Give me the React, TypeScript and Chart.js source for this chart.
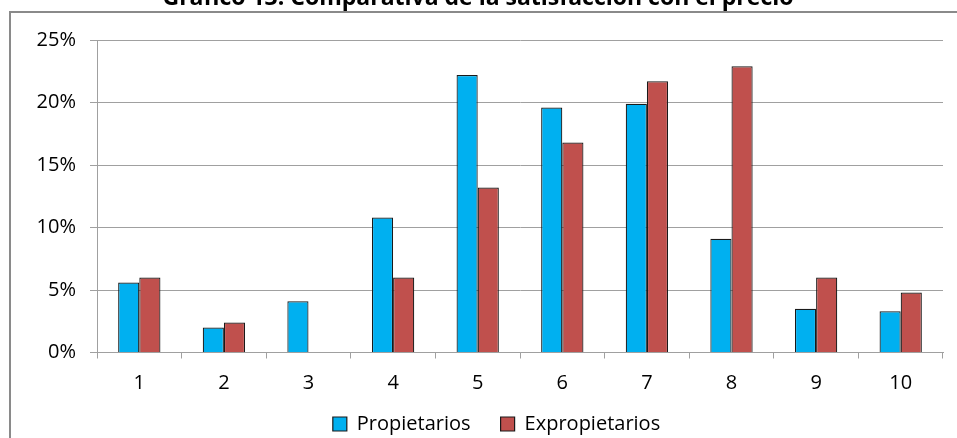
import React, { useEffect, useRef } from "react";
import { Chart, registerables } from "chart.js";

Chart.register(...registerables);

// Satisfaction score (1–10) and share of respondents in each group, in percent
const categories = ["1", "2", "3", "4", "5", "6", "7", "8", "9", "10"];
const propietarios = [5.6, 2.0, 4.1, 10.8, 22.2, 19.6, 19.9, 9.1, 3.5, 3.3];
const expropietarios = [6.0, 2.4, 0, 6.0, 13.2, 16.8, 21.7, 22.9, 6.0, 4.8];
const seriesNames = ["Propietarios", "Expropietarios"];
const yTicks = [0, 5, 10, 15, 20, 25];
const title = "Gráfico 13: Comparativa de la satisfacción con el precio";

const FONT = "'Open Sans', 'DejaVu Sans', sans-serif";
const FONT_SIZE = 20;
const GRID = "#a0a0a0";
const LEGEND_PAD = 30;

// Outer frame, heading, and placement of the legend row under the plot
const framePlugin = {
  id: "frame",
  afterLayout(chart: any) {
    const lg = chart.legend;
    if (!lg) return;
    const dx = 25;
    lg.left += dx;
    lg.right += dx;
    const dy = 424 - (lg.top + LEGEND_PAD + FONT_SIZE / 2);
    lg.top += dy;
    lg.bottom += dy;
  },
  beforeDraw(chart: any) {
    const ctx = chart.ctx;
    ctx.save();
    ctx.fillStyle = "#ffffff";
    ctx.fillRect(0, 0, chart.width, chart.height);
    ctx.strokeStyle = "#8a8a8a";
    ctx.lineWidth = 2;
    ctx.beginPath();
    ctx.moveTo(10, chart.height + 5);
    ctx.lineTo(10, 12);
    ctx.lineTo(chart.width + 5, 12);
    ctx.stroke();
    ctx.fillStyle = "#000000";
    ctx.font = `bold 23px ${FONT}`;
    ctx.textAlign = "center";
    ctx.textBaseline = "alphabetic";
    ctx.fillText(title, 478, 5);
    ctx.restore();
  },
};

export default function App() {
  const ref = useRef<HTMLCanvasElement | null>(null);

  useEffect(() => {
    if (!ref.current) return;
    const chart = new Chart(ref.current, {
      type: "bar",
      data: {
        labels: categories,
        datasets: [
          {
            label: seriesNames[0],
            data: propietarios,
            backgroundColor: "#00B0F0",
            borderColor: "#1a1a1a",
            borderWidth: 1.2,
          },
          {
            label: seriesNames[1],
            data: expropietarios,
            backgroundColor: "#C0504D",
            borderColor: "#1a1a1a",
            borderWidth: 1.2,
          },
        ],
      },
      options: {
        responsive: false,
        animation: false,
        layout: { padding: { left: 0, right: 14, top: 40, bottom: -22.5 } },
        datasets: { bar: { categoryPercentage: 0.5, barPercentage: 1.0 } },
        plugins: {
          tooltip: { enabled: false },
          legend: {
            position: "bottom",
            labels: {
              boxWidth: 14,
              boxHeight: 14,
              padding: LEGEND_PAD,
              color: "#000",
              font: { family: FONT, size: FONT_SIZE },
            },
          },
        },
        scales: {
          x: {
            offset: true,
            grid: {
              display: true,
              drawOnChartArea: false,
              drawTicks: true,
              tickLength: 6,
              color: GRID,
            },
            border: { display: true, color: GRID, width: 1 },
            ticks: { color: "#000", padding: 13, font: { family: FONT, size: FONT_SIZE } },
            afterFit(scale: any) {
              scale.height = 48;
            },
          },
          y: {
            min: yTicks[0],
            max: yTicks[yTicks.length - 1],
            afterBuildTicks(scale: any) {
              scale.ticks = yTicks.map((v) => ({ value: v }));
            },
            grid: { color: GRID, tickLength: 7, lineWidth: 1 },
            border: { display: true, color: GRID, width: 1 },
            ticks: {
              color: "#000",
              padding: 14,
              font: { family: FONT, size: FONT_SIZE },
              callback: (v: any) => `${v}%`,
            },
            afterFit(scale: any) {
              scale.width = 97;
            },
          },
        },
      },
      plugins: [framePlugin],
    });
    return () => chart.destroy();
  }, []);

  return (
    <div style={{ position: "fixed", left: 0, top: 0, width: 957, height: 438 }}>
      <canvas ref={ref} width={957} height={438} />
    </div>
  );
}
